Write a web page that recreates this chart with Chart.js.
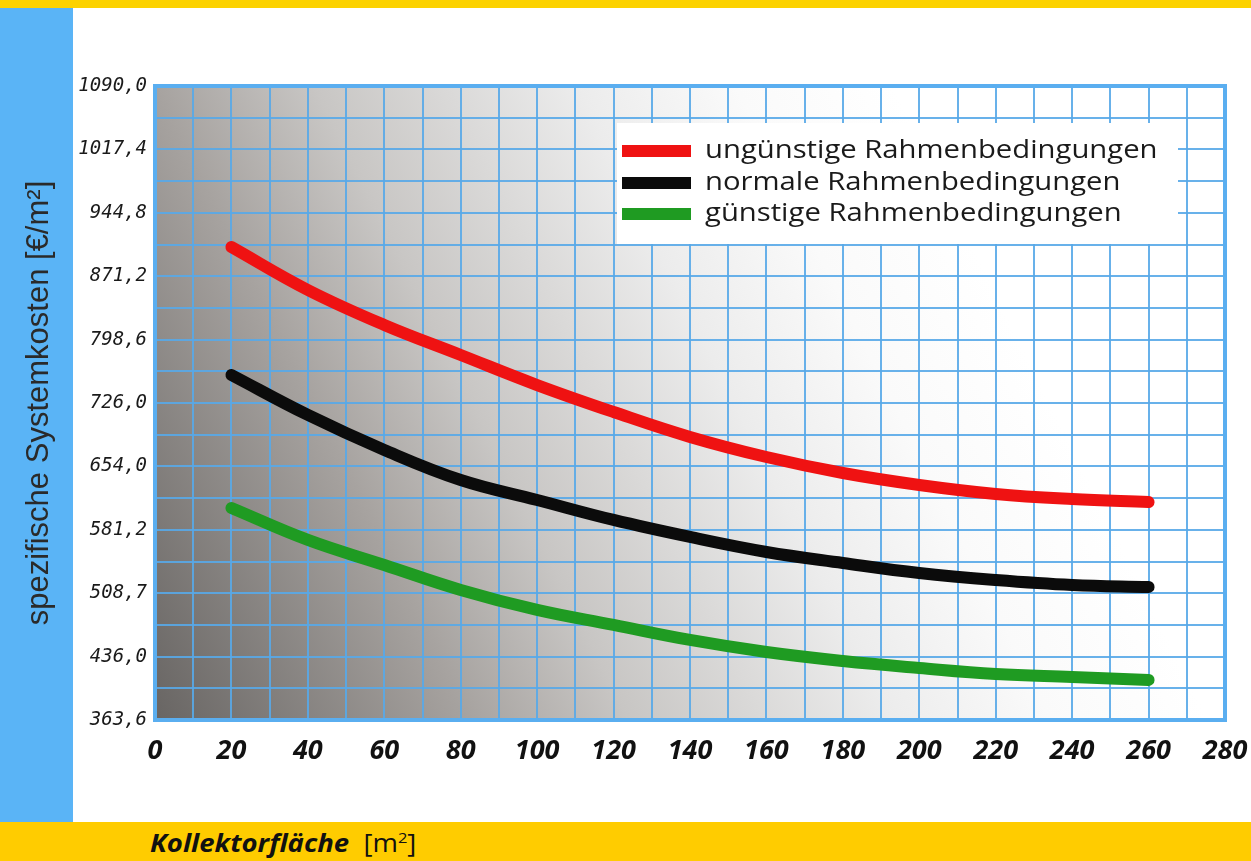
<!DOCTYPE html>
<html><head><meta charset="utf-8">
<script src="https://cdn.jsdelivr.net/npm/chart.js@4.4.1/dist/chart.umd.min.js"></script>
<style>
html,body{margin:0;padding:0;width:1251px;height:861px;overflow:hidden;background:#fff;}
#topbar{position:absolute;left:0;top:0;width:1251px;height:8px;background:#fcd200;}
#sidebar{position:absolute;left:0;top:8px;width:73px;height:814px;background:#5ab4f6;}
#bottombar{position:absolute;left:0;top:822px;width:1251px;height:39px;background:#ffcc00;}
#xtitle{position:absolute;left:150px;top:826px;font-family:'Open Sans',sans-serif;font-size:25px;color:#111;line-height:32px;transform:scaleX(1.1);transform-origin:0 50%;white-space:nowrap;}
#xtitle b{font-style:italic;font-weight:700;}
#xtitle sup{font-size:15px;line-height:0;}
#wrap{position:absolute;left:0;top:0;width:1251px;height:861px;}
</style></head>
<body>
<div id="topbar"></div>
<div id="sidebar"></div>
<div id="bottombar"></div>
<div id="xtitle"><b>Kollektorfläche</b>&nbsp; [m<sup>2</sup>]</div>
<div id="wrap"><canvas id="c" width="1251" height="861"></canvas></div>
<script>
// ---- data ----
const xValues = [20, 40, 60, 80, 100, 120, 140, 160, 180, 200, 220, 240, 260];
const redValues   = [905.5, 856.3, 816.2, 781.8, 747.4, 716.5, 687.9, 664.9, 646.6, 632.9, 622.6, 616.8, 613.4];
const blackValues = [758.9, 713.1, 673.0, 638.6, 615.7, 592.8, 573.3, 556.1, 543.5, 532.0, 524.0, 518.3, 516.0];
const greenValues = [606.5, 569.9, 541.2, 512.6, 489.7, 472.5, 455.3, 441.5, 431.2, 423.2, 416.3, 412.9, 409.5];
const seriesLabels = ['ungünstige Rahmenbedingungen', 'normale Rahmenbedingungen', 'günstige Rahmenbedingungen'];
const yTickLabels = ['1090,0','1017,4','944,8','871,2','798,6','726,0','654,0','581,2','508,7','436,0','363,6'];
const xTickLabels = ['0','20','40','60','80','100','120','140','160','180','200','220','240','260','280'];
const yMin = 363.6, yMax = 1090.0, yGridCount = 20;
const xMin = 0, xMax = 280, xGridStep = 10;
const yTitle = 'spezifische Systemkosten [€/m²]';

const colors = ['#ef1212', '#0b0b0b', '#1f9b22'];
const toPts = vals => vals.map((v, i) => ({x: xValues[i], y: v}));

const bgPlugin = {
  id: 'bg',
  beforeDraw(chart) {
    const {ctx, chartArea: a} = chart;
    const g = ctx.createLinearGradient(a.left, a.bottom, a.left + 845, a.bottom - 420);
    g.addColorStop(0, '#686563');
    g.addColorStop(0.3, '#a7a3a0');
    g.addColorStop(0.45, '#c8c6c4');
    g.addColorStop(0.7, '#ececec');
    g.addColorStop(0.85, '#fafafa');
    g.addColorStop(1, '#ffffff');
    ctx.save();
    ctx.fillStyle = g;
    ctx.fillRect(a.left, a.top, a.right - a.left, a.bottom - a.top);
    ctx.restore();
  },
  beforeDatasetsDraw(chart) {
    const {ctx, chartArea: a} = chart;
    ctx.save();
    ctx.strokeStyle = '#5aaef0';
    ctx.lineWidth = 4;
    ctx.strokeRect(a.left, a.top, a.right - a.left, a.bottom - a.top);
    ctx.fillStyle = '#ffffff';
    ctx.fillRect(617, 123, 561, 121);
    ctx.restore();
  },
  afterDatasetsDraw(chart) {
    const {ctx} = chart;
    const rows = [151, 183, 214];
    chart.data.datasets.forEach((ds, i) => {
      ctx.save();
      ctx.fillStyle = ds.borderColor;
      ctx.fillRect(622, rows[i] - 6, 69, 12);
      ctx.fillStyle = '#1a1a1a';
      ctx.font = '25px "Open Sans"';
      ctx.textBaseline = 'middle';
      ctx.translate(705, rows[i]);
      ctx.scale(1.17, 1);
      ctx.fillText(ds.label, 0, 0);
      ctx.restore();
    });
  }
};

const gridColor = 'rgba(88,168,232,0.9)';

new Chart(document.getElementById('c'), {
  type: 'line',
  data: {
    datasets: [redValues, blackValues, greenValues].map((vals, i) => ({
      label: seriesLabels[i],
      data: toPts(vals),
      borderColor: colors[i],
      backgroundColor: colors[i],
      borderWidth: 12,
      borderCapStyle: 'round',
      borderJoinStyle: 'round',
      tension: 0.4,
      pointRadius: 0,
      fill: false
    }))
  },
  options: {
    responsive: false,
    devicePixelRatio: 1,
    animation: false,
    layout: {padding: {top: 86, right: 26, bottom: 0, left: 0}},
    plugins: {legend: {display: false}, tooltip: {enabled: false}},
    scales: {
      x: {
        type: 'linear', min: xMin, max: xMax,
        afterBuildTicks: s => { const t = []; for (let v = xMin; v <= xMax; v += xGridStep) t.push({value: v}); s.ticks = t; },
        afterFit: s => { s.height = 141; s.paddingRight = 0; s.paddingLeft = 0; },
        ticks: {
          autoSkip: false, maxRotation: 0, padding: 15, color: '#111',
          font: {family: 'Open Sans', size: 27, style: 'italic', weight: 'bold'},
          callback: v => (v % 20 === 0 ? xTickLabels[v / 20] : '')
        },
        grid: {color: gridColor, lineWidth: 2, drawTicks: false},
        border: {display: false}
      },
      y: {
        type: 'linear', min: yMin, max: yMax,
        afterBuildTicks: s => { const t = []; for (let i = 0; i <= yGridCount; i++) t.push({value: yMin + (yMax - yMin) * i / yGridCount}); s.ticks = t; },
        afterFit: s => { s.width = 155; s.paddingTop = 0; s.paddingBottom = 0; },
        ticks: {
          autoSkip: false, padding: 8, color: '#1a1a1a',
          font: {family: 'DejaVu Sans Mono', size: 19, style: 'italic'},
          callback: (v, i) => (i % 2 === 0 ? yTickLabels[(yGridCount - i) / 2] : '')
        },
        title: {
          display: true, text: yTitle, color: '#2a2a2a',
          font: {family: 'Liberation Sans', size: 31},
          padding: {top: 21, bottom: 0}
        },
        grid: {color: gridColor, lineWidth: 2, drawTicks: false},
        border: {display: false}
      }
    }
  },
  plugins: [bgPlugin]
});
</script>
</body></html>
